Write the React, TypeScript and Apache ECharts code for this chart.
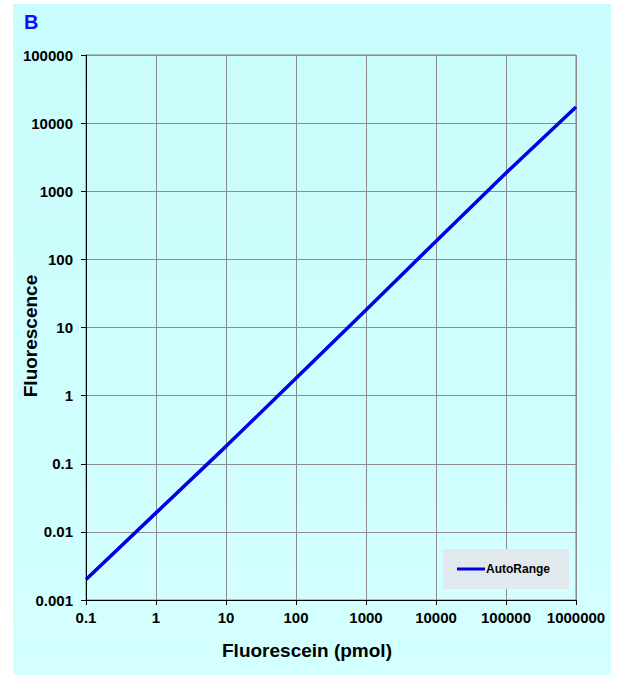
import React, { useEffect, useRef } from "react";
import * as echarts from "echarts";

const xValues = [0.1, 1, 10, 100, 1000, 10000, 100000, 1000000];
const autoRange = [0.002, 0.019, 0.18, 1.8, 18, 185, 1850, 17200];
const seriesName = "AutoRange";
const xTitle = "Fluorescein (pmol)";
const yTitle = "Fluorescence";
const panelLabel = "B";

const fmt = (v: number) => String(Number(v.toPrecision(6)));

export default function App() {
  const ref = useRef<HTMLDivElement>(null);
  useEffect(() => {
    document.body.style.margin = "0";
    const chart = echarts.init(ref.current!, undefined, { renderer: "svg" });
    const font = "'Liberation Sans', Arial, sans-serif";
    chart.setOption({
      animation: false,
      backgroundColor: "#ffffff",
      textStyle: { fontFamily: font },
      graphic: [
        {
          type: "rect",
          z: -10,
          silent: true,
          shape: { x: 13, y: 4, width: 598, height: 671 },
          style: {
            fill: new echarts.graphic.LinearGradient(0, 0, 0, 1, [
              { offset: 0, color: "#c9fcfc" },
              { offset: 1, color: "#d3ffff" },
            ]),
          },
        },
        {
          type: "text",
          left: 24,
          top: 12,
          style: { text: panelLabel, fill: "#1010f0", font: `bold 20px ${font}` },
        },
        {
          type: "text",
          x: 307,
          y: 650,
          style: {
            text: xTitle,
            fill: "#000",
            font: `bold 19px ${font}`,
            align: "center",
            verticalAlign: "middle",
          },
        },
        {
          type: "text",
          x: 30,
          y: 336,
          rotation: Math.PI / 2,
          style: {
            text: yTitle,
            fill: "#000",
            font: `bold 19px ${font}`,
            align: "center",
            verticalAlign: "middle",
          },
        },
      ],
      grid: {
        left: 86,
        top: 55,
        right: 47,
        bottom: 75,
        show: true,
        borderColor: "#808080",
        borderWidth: 1,
        backgroundColor: "transparent",
      },
      legend: {
        left: 443,
        top: 549,
        padding: [14, 19, 14, 14],
        backgroundColor: "#e2e9ee",
        itemWidth: 28,
        itemHeight: 3,
        itemGap: 2,
        icon: "rect",
        textStyle: { fontFamily: font, fontWeight: "bold", fontSize: 12, color: "#000", padding: [0, 0, 0, -4] },
        data: [seriesName],
      },
      xAxis: {
        type: "log",
        logBase: 10,
        min: 0.1,
        max: 1000000,
        axisLine: { show: true, lineStyle: { color: "#000", width: 1 } },
        axisTick: { show: true, inside: false, length: 5, lineStyle: { color: "#000" } },
        minorTick: { show: false },
        axisLabel: {
          color: "#000",
          fontWeight: "bold",
          fontSize: 15,
          fontFamily: font,
          margin: 10,
          formatter: (v: number) => fmt(v),
        },
        splitLine: { show: true, lineStyle: { color: "#8c8c8c", width: 1 } },
      },
      yAxis: {
        type: "log",
        logBase: 10,
        min: 0.001,
        max: 100000,
        axisLine: { show: true, lineStyle: { color: "#000", width: 1 } },
        axisTick: { show: true, inside: false, length: 5, lineStyle: { color: "#000" } },
        axisLabel: {
          color: "#000",
          fontWeight: "bold",
          fontSize: 15,
          fontFamily: font,
          margin: 13,
          formatter: (v: number) => fmt(v),
        },
        splitLine: { show: true, lineStyle: { color: "#8c8c8c", width: 1 } },
      },
      series: [
        {
          name: seriesName,
          type: "line",
          data: xValues.map((x, i) => [x, autoRange[i]]),
          symbol: "none",
          lineStyle: { color: "#0000e6", width: 3.5 },
          itemStyle: { color: "#0000e6" },
        },
      ],
    });
    return () => chart.dispose();
  }, []);
  return <div ref={ref} style={{ position: "absolute", left: 0, top: 0, width: 623, height: 675 }} />;
}
